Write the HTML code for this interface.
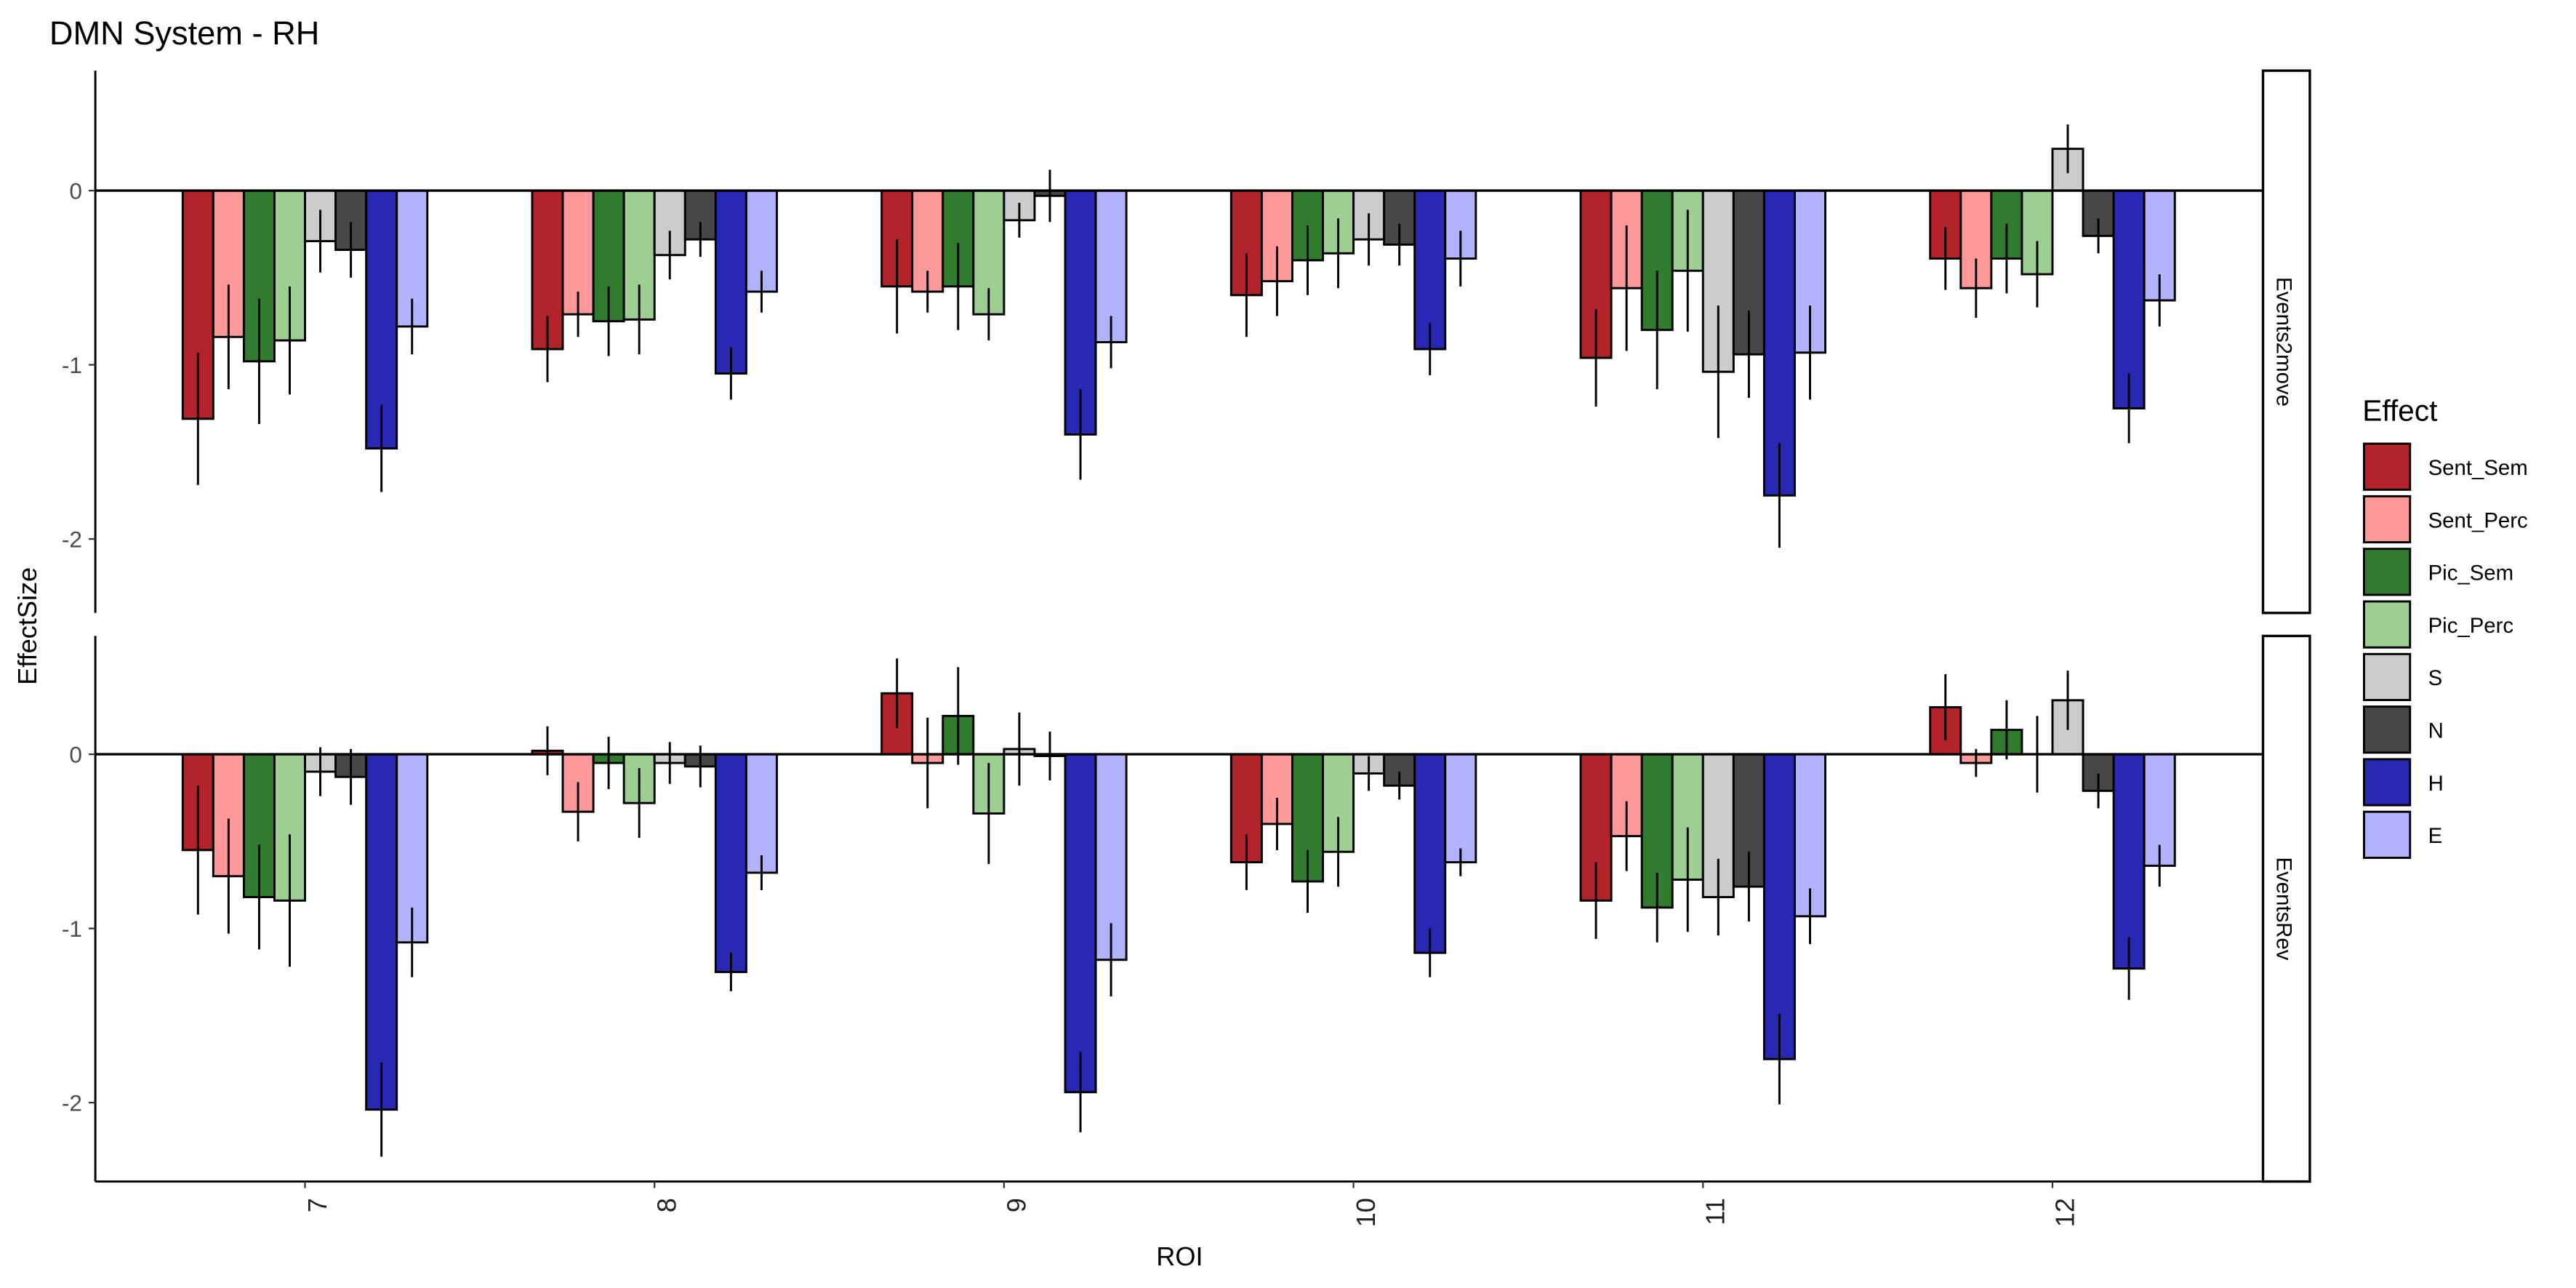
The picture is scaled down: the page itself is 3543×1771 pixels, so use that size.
<!DOCTYPE html>
<html><head><meta charset="utf-8"><style>
html,body{margin:0;padding:0;background:#fff}
svg{display:block}
text{font-family:"Liberation Sans",Arial,sans-serif}
</style></head><body>
<svg id="chart" width="3543" height="1771" viewBox="0 0 1568 783.8" xmlns="http://www.w3.org/2000/svg">
<text x="30" y="27" font-size="20" fill="#000">DMN System - RH</text>
<text transform="translate(22,381) rotate(-90)" text-anchor="middle" font-size="16">EffectSize</text>
<text x="718" y="770" text-anchor="middle" font-size="16">ROI</text>
<g id="plots"></g>
<g id="legend"></g>
</svg>
<script>
const categories = ["7","8","9","10","11","12"];
const effects = ["Sent_Sem","Sent_Perc","Pic_Sem","Pic_Perc","S","N","H","E"];
const colors = ["#B2242A","#FF9999","#317B2E","#9DCF93","#CCCCCC","#474747","#2828B2","#B2B2FF"];
const panels = ["Events2move","EventsRev"];
const yTicks = [0,-1,-2];
const topValues = [
 [-1.31,-0.84,-0.98,-0.86,-0.29,-0.34,-1.48,-0.78],
 [-0.91,-0.71,-0.75,-0.74,-0.37,-0.28,-1.05,-0.58],
 [-0.55,-0.58,-0.55,-0.71,-0.17,-0.03,-1.40,-0.87],
 [-0.60,-0.52,-0.40,-0.36,-0.28,-0.31,-0.91,-0.39],
 [-0.96,-0.56,-0.80,-0.46,-1.04,-0.94,-1.75,-0.93],
 [-0.39,-0.56,-0.39,-0.48,0.24,-0.26,-1.25,-0.63]];
const topErrors = [
 [0.38,0.30,0.36,0.31,0.18,0.16,0.25,0.16],
 [0.19,0.13,0.20,0.20,0.14,0.10,0.15,0.12],
 [0.27,0.12,0.25,0.15,0.10,0.15,0.26,0.15],
 [0.24,0.20,0.20,0.20,0.15,0.12,0.15,0.16],
 [0.28,0.36,0.34,0.35,0.38,0.25,0.30,0.27],
 [0.18,0.17,0.20,0.19,0.14,0.10,0.20,0.15]];
const bottomValues = [
 [-0.55,-0.70,-0.82,-0.84,-0.10,-0.13,-2.04,-1.08],
 [0.02,-0.33,-0.05,-0.28,-0.05,-0.07,-1.25,-0.68],
 [0.35,-0.05,0.22,-0.34,0.03,-0.01,-1.94,-1.18],
 [-0.62,-0.40,-0.73,-0.56,-0.11,-0.18,-1.14,-0.62],
 [-0.84,-0.47,-0.88,-0.72,-0.82,-0.76,-1.75,-0.93],
 [0.27,-0.05,0.14,0.00,0.31,-0.21,-1.23,-0.64]];
const bottomErrors = [
 [0.37,0.33,0.30,0.38,0.14,0.16,0.27,0.20],
 [0.14,0.17,0.15,0.20,0.12,0.12,0.11,0.10],
 [0.20,0.26,0.28,0.29,0.21,0.14,0.23,0.21],
 [0.16,0.15,0.18,0.20,0.10,0.08,0.14,0.08],
 [0.22,0.20,0.20,0.30,0.22,0.20,0.26,0.16],
 [0.19,0.08,0.17,0.22,0.17,0.10,0.18,0.12]];

const NS="http://www.w3.org/2000/svg";
function mk(tag,attrs,parent){const e=document.createElementNS(NS,tag);for(const k in attrs)e.setAttribute(k,attrs[k]);parent.appendChild(e);return e;}
const X0=58,X1=1377;
const step=(X1-X0)/(categories.length-1+1.2);
function xCenter(i){return X0+step*(0.6+i);}
const groupW=step*0.7, barW=groupW/effects.length;
const plots=document.getElementById('plots');
const panelDefs=[{top:43,bot:373,zero:116,vals:topValues,errs:topErrors},{top:387,bot:719,zero:459,vals:bottomValues,errs:bottomErrors}];
const unit=106;
panelDefs.forEach((p,pi)=>{
  const y=v=>p.zero-v*unit;
  const g=mk('g',{},plots);
  
  
  p.vals.forEach((row,ci)=>{
    row.forEach((v,ei)=>{
      const x=xCenter(ci)-groupW/2+ei*barW;
      const r=mk('rect',{x:x,y:Math.min(y(v),y(0)),width:barW,height:Math.abs(y(v)-y(0)),fill:colors[ei],stroke:'#000','stroke-width':1.3},g);
      
      
    });
  });
  const zl=mk('line',{x1:X0,x2:X1,y1:y(0),y2:y(0),stroke:'#000','stroke-width':1.5},g);
  
  
  p.vals.forEach((row,ci)=>{
    row.forEach((v,ei)=>{
      const cx=xCenter(ci)-groupW/2+(ei+0.5)*barW;
      const e=p.errs[ci][ei];
      const l=mk('line',{x1:cx,x2:cx,y1:y(v+e),y2:y(v-e),stroke:'#000','stroke-width':1.3},g);
      
      
    });
  });
  const ax=mk('line',{x1:X0,x2:X0,y1:p.top,y2:p.bot,stroke:'#000','stroke-width':1.3},g);
  
  
  yTicks.forEach(t=>{
    mk('line',{x1:X0-4,x2:X0,y1:y(t),y2:y(t),stroke:'#333','stroke-width':1},g);
    const tx=mk('text',{x:X0-8,y:y(t)+5,'text-anchor':'end','font-size':14,fill:'#4d4d4d'},g);
    tx.textContent=t===0?'0':String(t);
    
    
  });
  const sb=mk('rect',{x:1377.5,y:p.top,width:28.5,height:p.bot-p.top,fill:'#fff',stroke:'#000','stroke-width':1.5},g);
  
  
  const st=mk('text',{transform:`translate(1386,${(p.top+p.bot)/2}) rotate(90)`,'text-anchor':'middle','font-size':13},g);
  st.textContent=panels[pi];
  
  
  if(pi===1){
    const xa=mk('line',{x1:X0,x2:X1,y1:p.bot,y2:p.bot,stroke:'#000','stroke-width':1.3},g);
    
    
    categories.forEach((c,ci)=>{
      mk('line',{x1:xCenter(ci),x2:xCenter(ci),y1:p.bot,y2:p.bot+4,stroke:'#333','stroke-width':1},g);
      const tx=mk('text',{transform:`translate(${xCenter(ci)+13},${p.bot+10}) rotate(-90)`,'text-anchor':'end','font-size':16,fill:'#222'},g);
      tx.textContent=c;
      
      
    });
  }
});
const lg=document.getElementById('legend');
const lt=mk('text',{x:1438,y:256,'font-size':18},lg);
lt.textContent='Effect';


effects.forEach((e,i)=>{
  const yy=270+i*32;
  const r=mk('rect',{x:1439,y:yy,width:28,height:28,fill:colors[i],stroke:'#000','stroke-width':1.3},lg);
  
  
  const t=mk('text',{x:1478,y:yy+19,'font-size':13},lg);
  t.textContent=e;
  
  
});
</script>
</body></html>
